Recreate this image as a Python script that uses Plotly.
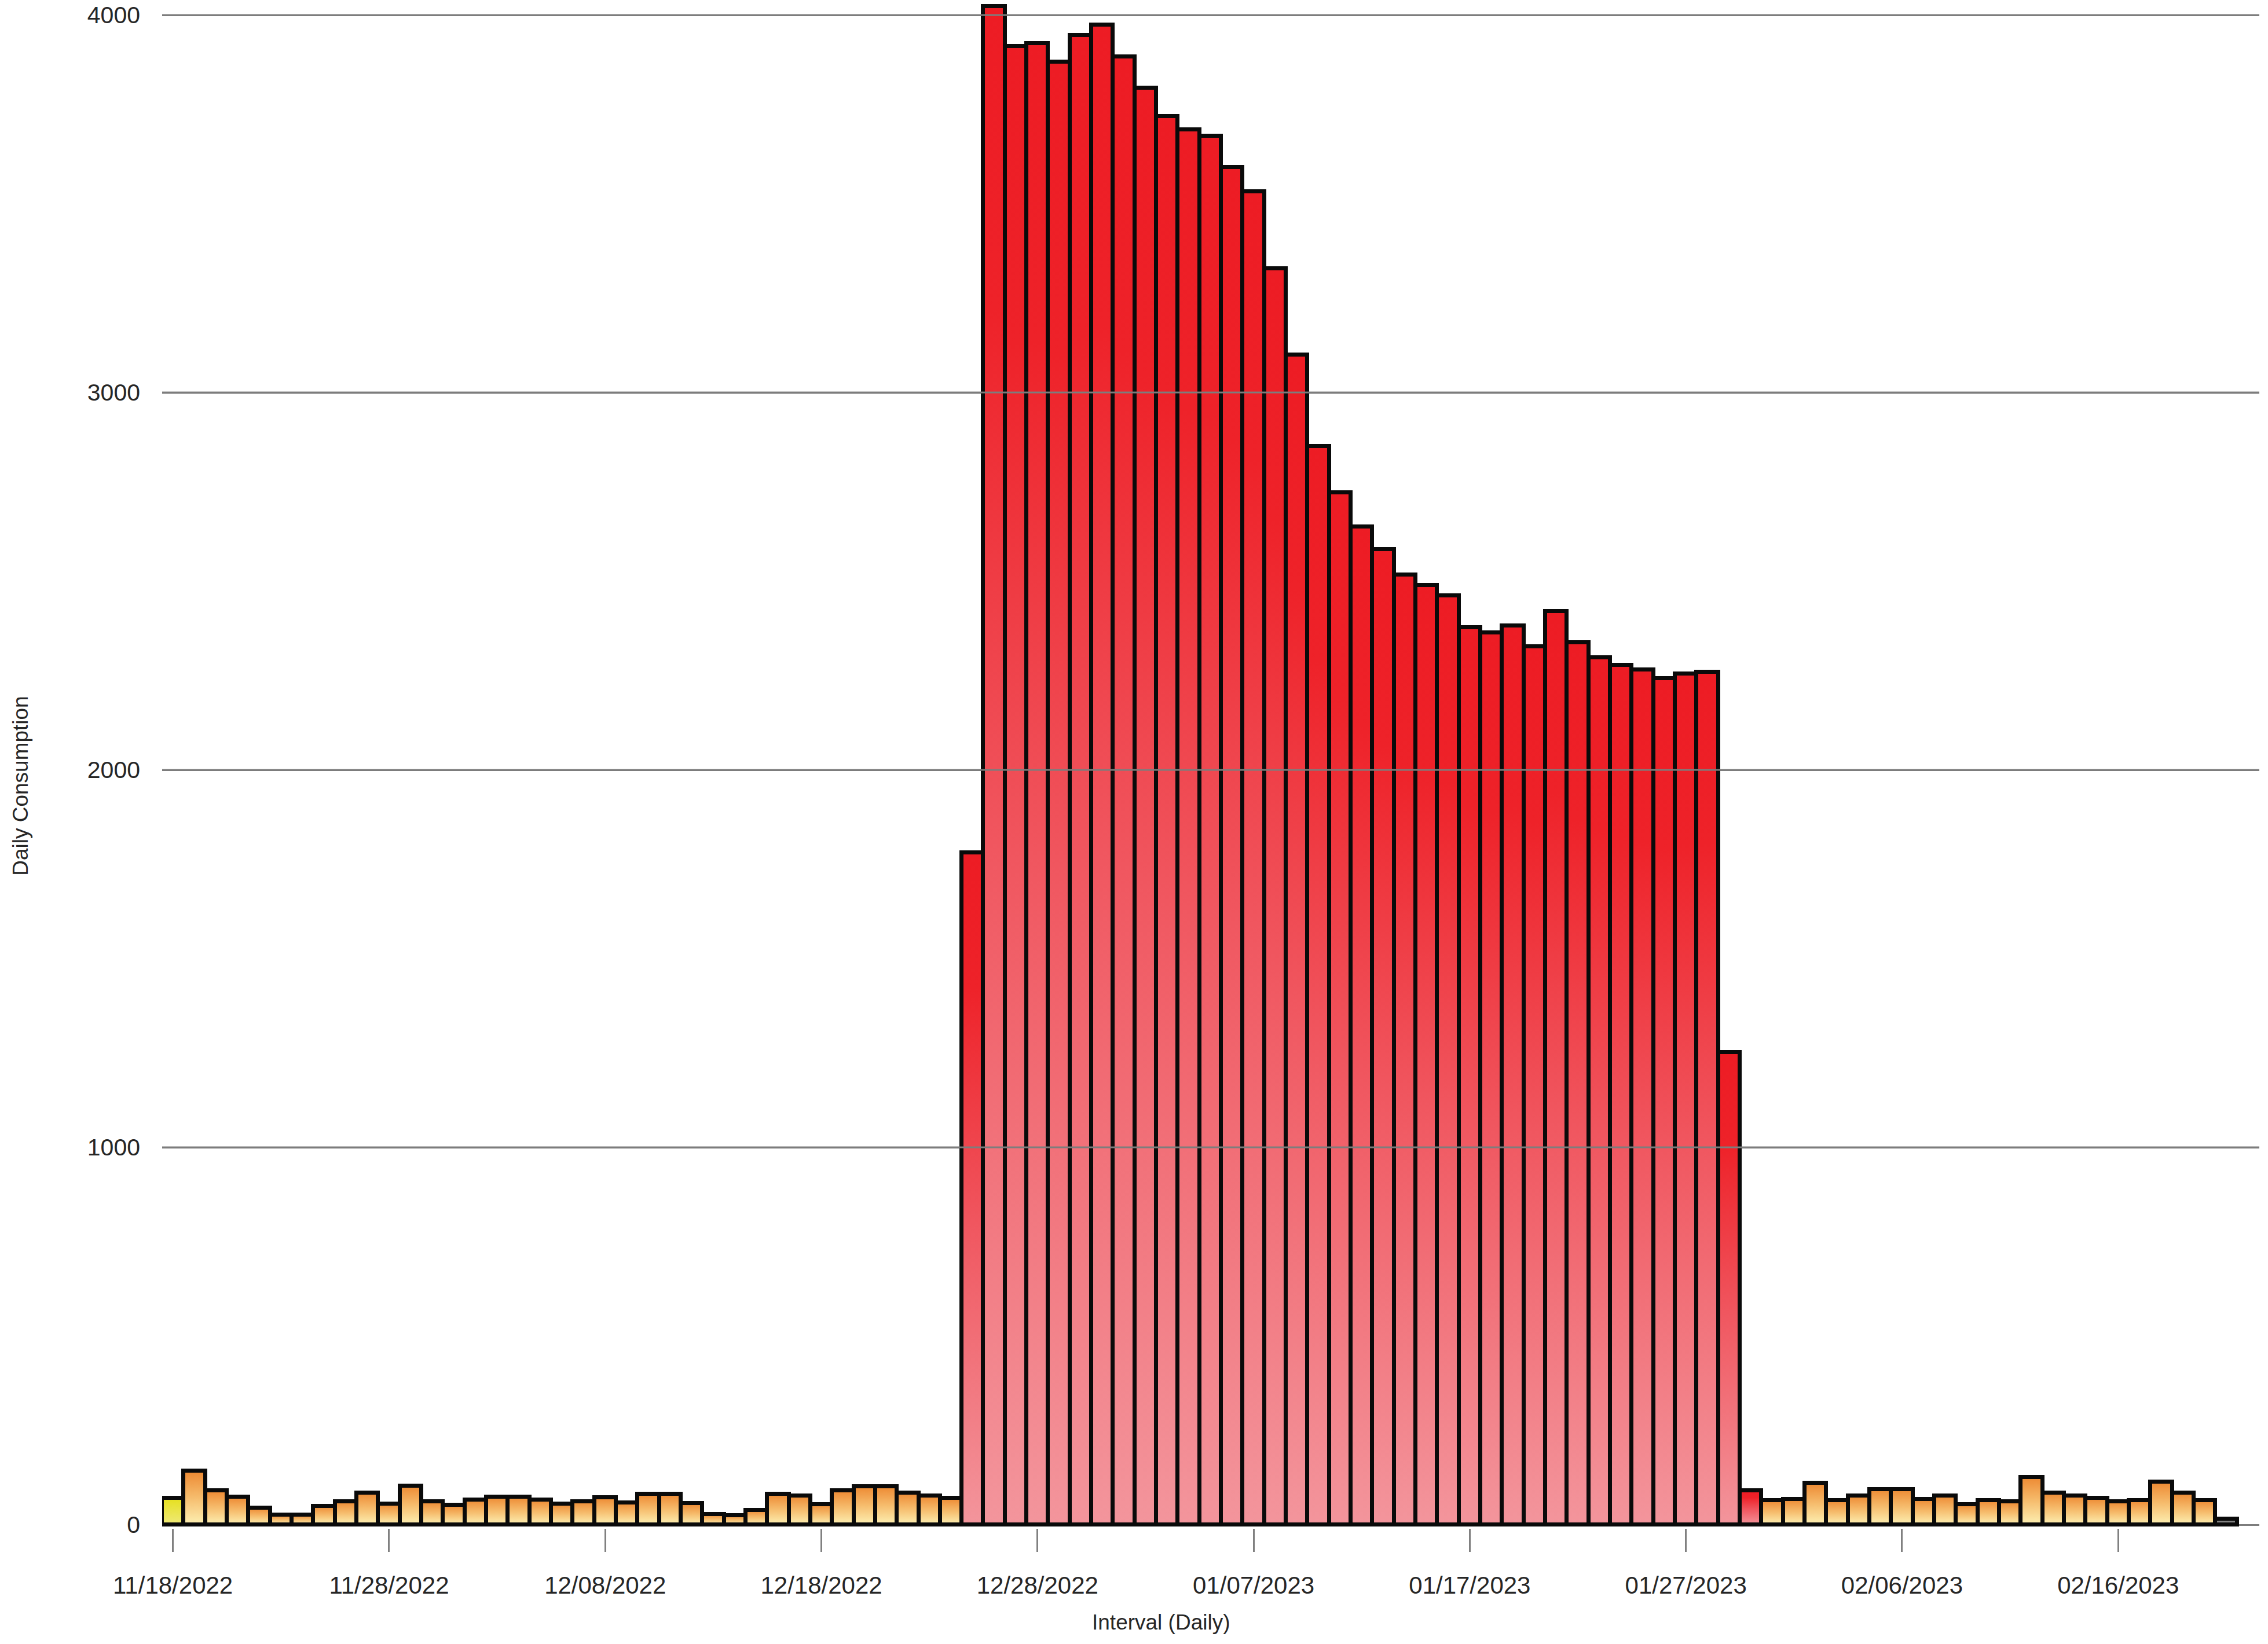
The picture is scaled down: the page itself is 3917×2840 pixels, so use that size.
import pandas as pd
import plotly.graph_objects as go

# ---- data -------------------------------------------------------------
start_day = "2022-11-18"

consumption = [
    70, 142, 90, 73, 44, 26, 26, 49, 62, 85, 55, 103, 61, 52, 66, 74, 74, 66, 55, 62,
    72, 59, 81, 81, 56, 28, 25, 39, 81, 77, 54, 90, 101, 101, 85, 77, 70,
    1780, 4023, 3917, 3925, 3876, 3946, 3974, 3889, 3807, 3732, 3696, 3679, 3597, 3533, 3328,
    3100, 2858, 2735, 2644, 2584, 2517, 2490, 2462, 2378, 2363, 2382, 2326, 2421, 2337,
    2297, 2277, 2265, 2243, 2255, 2260,
    1252, 90,
    65, 68, 110, 65, 77, 94, 94, 68, 77, 54, 65, 61, 126, 85, 77, 71, 61, 65, 113, 85, 65, 16,
]

# colour class of each day
bar_group = ["first"] + ["normal"] * 36 + ["peak"] * 37 + ["normal"] * 21 + ["last"]

y_ticks = [0, 1000, 2000, 3000, 4000]
tick_step_days = 10

# vertical gradients, bottom -> top
gradients = {
    "first": [[0, "#efe97a"], [1, "#e6e01e"]],
    "normal": [[0, "#fdf1b4"], [0.5, "#f6bd6e"], [1, "#ed8932"]],
    "peak": [[0, "#f3959c"], [0.45, "#f0565f"], [0.8, "#ee2229"], [1, "#ed1c24"]],
    "last": [[0, "#9b9b9b"], [1, "#6c6c6c"]],
}

# ---- figure -----------------------------------------------------------
days = pd.date_range(start_day, periods=len(consumption), freq="D")
half = pd.Timedelta(hours=12)
x_range = [days[0] - half, days[-1] + half + pd.Timedelta(days=1.03)]
y_range = [-9.2, 4040]

fig = go.Figure()

# gradient-filled body of every bar
for day, value, group in zip(days, consumption, bar_group):
    left, right = day - half, day + half
    fig.add_trace(go.Scatter(
        x=[left, left, right, right, left],
        y=[0, value, value, 0, 0],
        mode="lines",
        line=dict(width=0, color="rgba(0,0,0,0)"),
        fill="toself",
        fillgradient=dict(type="vertical", colorscale=gradients[group],
                          start=0, stop=value),
        hoverinfo="skip",
        showlegend=False,
    ))

# black bar outlines, on an overlaid copy of the axes so they sit on top
fig.add_trace(go.Bar(
    x=days,
    y=consumption,
    width=86400000,
    xaxis="x2",
    yaxis="y2",
    marker=dict(color="rgba(0,0,0,0)", line=dict(color="#0a0a0a", width=7)),
    showlegend=False,
    hovertemplate="%{x|%m/%d/%Y}: %{y}<extra></extra>",
))

# horizontal grid lines drawn over the bars
for t in y_ticks[1:]:
    fig.add_shape(type="line", xref="paper", x0=0, x1=1, yref="y", y0=t, y1=t,
                  layer="above", line=dict(color="#7d7d7d", width=3))

text_color = "#262626"
font_family = "Liberation Sans, Arial, Helvetica, sans-serif"

fig.update_layout(
    width=3917,
    height=2840,
    margin=dict(l=280, r=15, t=0, b=200),
    paper_bgcolor="white",
    plot_bgcolor="white",
    font=dict(family=font_family, color=text_color),
    bargap=0,
    showlegend=False,
    xaxis=dict(
        type="date",
        range=x_range,
        tickmode="linear",
        tick0=start_day,
        dtick=tick_step_days * 86400000,
        tickformat="%m/%d/%Y",
        ticks="outside",
        ticklen=40,
        tickwidth=3,
        tickcolor="#808080",
        ticklabelstandoff=22,
        showgrid=False,
        showline=False,
        zeroline=False,
        tickfont=dict(size=42, color=text_color),
    ),
    yaxis=dict(
        range=y_range,
        tickmode="array",
        tickvals=y_ticks,
        showgrid=True,
        gridcolor="#7d7d7d",
        gridwidth=3,
        zeroline=False,
        showline=False,
        ticks="",
        ticklabelstandoff=37,
        tickfont=dict(size=41, color=text_color),
    ),
    xaxis2=dict(type="date", range=x_range, overlaying="x", anchor="y2",
                visible=False, showgrid=False, zeroline=False),
    yaxis2=dict(range=y_range, overlaying="y", anchor="x2",
                visible=False, showgrid=False, zeroline=False),
    annotations=[
        dict(text="Interval (Daily)", xref="paper", yref="paper",
             x=0.4765, y=-0.0617, xanchor="center", yanchor="middle",
             showarrow=False, font=dict(size=37, color=text_color)),
        dict(text="Daily Consumption", xref="paper", yref="paper",
             x=-0.0674, y=0.486, xanchor="center", yanchor="middle",
             textangle=-90, showarrow=False, font=dict(size=37, color=text_color)),
    ],
)

fig.write_html("out.html")
